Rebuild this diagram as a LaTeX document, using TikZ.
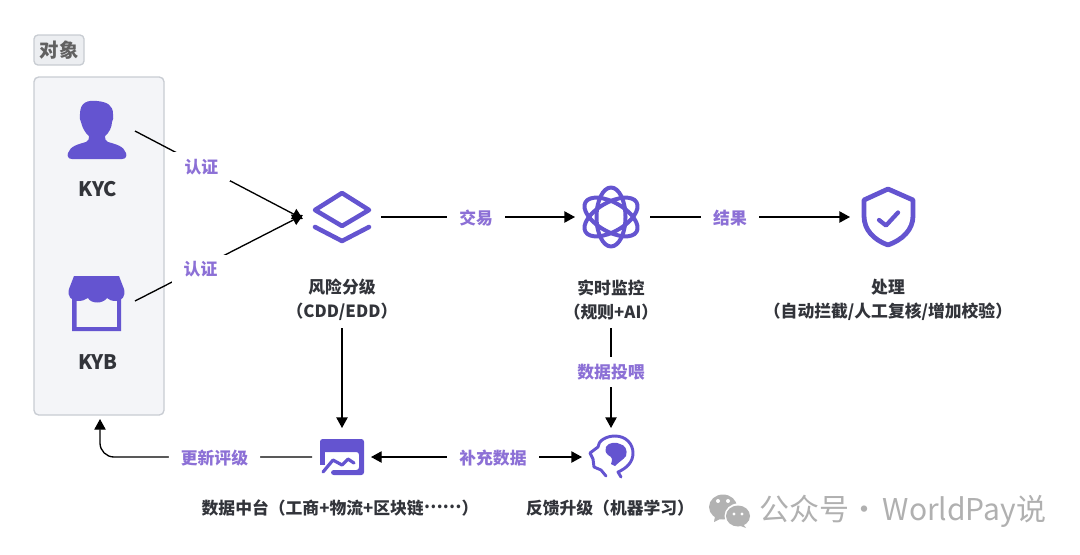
\documentclass[tikz,border=0pt]{standalone}
\usepackage{fontspec}
\setmainfont{Noto Sans CJK SC}
\usepackage{xcolor}
\usetikzlibrary{positioning, calc, arrows.meta}

\tikzset{
    hub/.style={inner sep=0pt, outer sep=0pt, draw=none},
    title_lbl/.style={text=mytext, font=\fontsize{12.6}{18}\selectfont\bfseries, align=center, inner sep=0pt},
    edge_lbl/.style={text=mylabel, fill=white, font=\fontsize{12.6}{18}\selectfont\bfseries, inner xsep=9pt, inner ysep=5pt},
    flow/.style={-{Triangle[length=8pt, width=8.5pt]}, line width=1pt, black},
    icon_line/.style={draw=myicon, line width=3pt, line join=round, line cap=round},
    icon_fill/.style={fill=myicon, draw=none}
}

\begin{document}
\begin{tikzpicture}[x=0.75pt, y=-0.75pt]
    % Màu
    \definecolor{myicon}{RGB}{100, 84, 208}
    \definecolor{mylabel}{RGB}{140, 112, 214}
    \definecolor{mytext}{RGB}{50, 52, 58}
    \definecolor{myframe}{RGB}{200, 204, 210}
    \definecolor{mypanel}{RGB}{244, 245, 248}
    \definecolor{mytag}{RGB}{236, 238, 241}

    \useasboundingbox (0, 0) rectangle (1080, 554);

    % 1. Khung bên trái
    \node[draw=myframe, fill=mytag, line width=1pt, rounded corners=3pt, text=black!62!white,
          font=\fontsize{14.5}{18}\selectfont\bfseries, minimum width=37.5pt, minimum height=22.5pt, inner sep=0pt]
        (tag_obj) at (59, 50) {对象};
    \node[draw=myframe, fill=mypanel, line width=1pt, rounded corners=3.5pt,
          minimum width=97.5pt, minimum height=253.5pt, inner sep=0pt] (box_obj) at (99, 246) {};

    % 2. Các nút neo cho mũi tên
    \node[hub, minimum width=57pt, minimum height=45pt] (ico_person) at (97, 131) {};
    \node[hub, minimum width=57pt, minimum height=45pt] (ico_shop) at (97, 301) {};
    \node[hub, minimum width=58.5pt, minimum height=45pt] (ico_layer) at (342, 217) {};
    \node[hub, minimum width=56.25pt, minimum height=45pt] (ico_atom) at (612.5, 217) {};
    \node[hub, minimum width=49.5pt, minimum height=45pt, anchor=west] (ico_shield) at (850, 217) {};
    \node[hub, minimum width=44.25pt, minimum height=43.5pt] (ico_data) at (341.5, 457) {};
    \node[hub, minimum width=39pt, minimum height=43.5pt] (ico_brain) at (608, 457) {};
    \coordinate (obj_in) at (100, 419);

    % 3. Biểu tượng
    % Người
    \fill[icon_fill] (72, 159) -- (122, 159) .. controls (126, 159) and (127, 156) .. (126, 153)
        .. controls (124, 146) and (115, 144) .. (108, 142) .. controls (105, 141) and (105, 138) .. (105, 136)
        .. controls (109, 133) and (112, 127) .. (112, 122) .. controls (114, 120) and (113, 117) .. (113, 114)
        .. controls (113, 105) and (107, 102) .. (97, 101) .. controls (88, 100) and (80, 102) .. (80, 114)
        .. controls (80, 117) and (79, 120) .. (81, 122) .. controls (82, 127) and (85, 133) .. (89, 136)
        .. controls (89, 138) and (89, 141) .. (86, 142) .. controls (79, 144) and (70, 146) .. (68, 153)
        .. controls (67, 156) and (68, 159) .. (72, 159) -- cycle;
    % Cửa hàng
    \fill[icon_fill, even odd rule] (72, 292) rectangle (121, 331) (76.5, 295) rectangle (117, 327);
    \fill[icon_fill] (74, 276) -- (119, 276) -- (124, 289) .. controls (126, 296) and (122, 301) .. (116, 301)
        .. controls (112, 301) and (109, 300) .. (107, 298) .. controls (103, 304) and (91, 304) .. (88, 298)
        .. controls (85, 300) and (82, 301) .. (78, 301) .. controls (71, 301) and (67, 296) .. (69, 289) -- cycle;
    % Lớp
    \draw[icon_line, line width=3.4pt] (342, 193) -- (369, 210) -- (342, 226) -- (315, 210) -- cycle;
    \draw[icon_line, line width=3.4pt] (315, 227) -- (342, 241) -- (369, 227);
    % Nguyên tử
    \foreach \ang in {0, 60, -60} {
        \draw[icon_line, line width=3pt, rotate around={\ang:(611, 217)}] (611, 217) ellipse [x radius=14.5, y radius=29.5];
    }
    % Khiên
    \draw[icon_line, line width=3.6pt] (888, 189) -- (913, 200) -- (913, 216) .. controls (913, 230) and (902, 240) .. (888, 245)
        .. controls (874, 240) and (864, 230) .. (864, 216) -- (864, 200) -- cycle;
    \draw[icon_line, line width=3.2pt] (879, 220) -- (886, 225.5) -- (898, 212.5);
    % Dữ liệu
    \fill[icon_fill, rounded corners=2pt] (320, 452) -- (320, 439) -- (364, 439) -- (364, 475) -- (331, 475) -- (331, 470) -- (359, 470) -- (359, 452) -- cycle;
    \fill[icon_fill] (320, 450) rectangle (325, 465);
    \draw[icon_line, line width=2.4pt] (323, 472) -- (333, 460) -- (342, 465) -- (348, 459) -- (354, 463);
    % Não
    \draw[icon_line, line width=2.2pt] (606, 476) -- (601, 470) -- (594, 467) -- (593, 459) -- (590, 453) -- (598, 447)
        .. controls (598, 441) and (606, 436) .. (615, 436) .. controls (626, 436) and (633, 444) .. (633, 453)
        .. controls (633, 462) and (627, 468) .. (618, 472) -- (621, 477);
    \fill[icon_fill] (606, 447) .. controls (608, 442) and (617, 442) .. (620, 444) .. controls (625, 445) and (628, 450) .. (626, 456)
        .. controls (623, 460) and (620, 461) .. (615, 466) -- (611, 464) .. controls (613, 459) and (612, 457) .. (608, 455)
        .. controls (605, 452) and (605, 450) .. (606, 447) -- cycle;

    % 4. Nhãn chữ
    \node[title_lbl, font=\fontsize{15}{18}\selectfont\bfseries] (lbl_kyc) at (98, 189) {KYC};
    \node[title_lbl, font=\fontsize{15}{18}\selectfont\bfseries] (lbl_kyb) at (98, 362) {KYB};
    \node[title_lbl, minimum height=42pt] (lbl_risk) at (342, 300) {风险分级\\（CDD/EDD）};
    \node[title_lbl, minimum height=42pt] (lbl_monitor) at (611, 300) {实时监控\\（规则+AI）};
    \node[title_lbl, minimum height=42pt] (lbl_result) at (888, 300) {处理\\（自动拦截/人工复核/增加校验）};
    \node[title_lbl] (lbl_data) at (340, 508) {数据中台（工商+物流+区块链\raisebox{0.33em}{……}）};
    \node[title_lbl] (lbl_brain) at (610, 508) {反馈升级（机器学习）};

    % 5. Mũi tên
    \draw[flow] (ico_person.east) -- node[edge_lbl, pos=0.395, yshift=-0.8pt] (lbl_auth_a) {认证} ([yshift=-1.5pt]ico_layer.west);
    \draw[flow] (ico_shop.east) -- node[edge_lbl, pos=0.39, yshift=-1.5pt] (lbl_auth_b) {认证} ([yshift=1.5pt]ico_layer.west);
    \draw[flow] (ico_layer.east) -- node[edge_lbl, pos=0.49, yshift=-0.5pt] (lbl_trade) {交易} (ico_atom.west);
    \draw[flow] (ico_atom.east) -- node[edge_lbl, pos=0.4, yshift=-0.5pt] (lbl_out) {结果} (ico_shield.west);
    \draw[flow] (lbl_risk.south) -- (lbl_risk.south |- ico_data.north);
    \draw[flow] (lbl_monitor.south) -- node[edge_lbl, pos=0.44] (lbl_feed) {数据投喂} (lbl_monitor.south |- ico_brain.north);
    \draw[flow, {Triangle[length=8pt, width=8.5pt]}-{Triangle[length=8pt, width=8.5pt]}] (ico_data.east) -- node[edge_lbl, pos=0.578, yshift=-0.5pt] (lbl_fill) {补充数据} (ico_brain.west);
    \draw[flow, rounded corners=10.5pt] (ico_data.west) -| node[edge_lbl, pos=0.23, yshift=-0.5pt] (lbl_update) {更新评级} (obj_in);

    % 6. Dấu nước
    \fill[black!30!white] (723, 507) ellipse [x radius=14, y radius=12.5];
    \fill[black!30!white] (715, 516) -- (714, 522) -- (722, 518) -- cycle;
    \fill[white] (738, 516) ellipse [x radius=13.5, y radius=12.5];
    \fill[black!30!white] (738, 516) ellipse [x radius=12, y radius=10.5];
    \fill[black!30!white] (743, 524) -- (746, 528) -- (738, 525) -- cycle;
    \foreach \px/\py/\rr in {718/501/2, 728/501/2, 734/514/1.6, 742/514/1.6} {
        \fill[white] (\px, \py) circle [radius=\rr];
    }
    \node[text=black!31!white, font=\fontsize{22.5}{24}\selectfont, anchor=west, inner sep=0pt] (lbl_mark) at (759, 511) {公众号\hspace{-4.5pt} · \hspace{-3pt}WorldPay说};
\end{tikzpicture}
\end{document}
